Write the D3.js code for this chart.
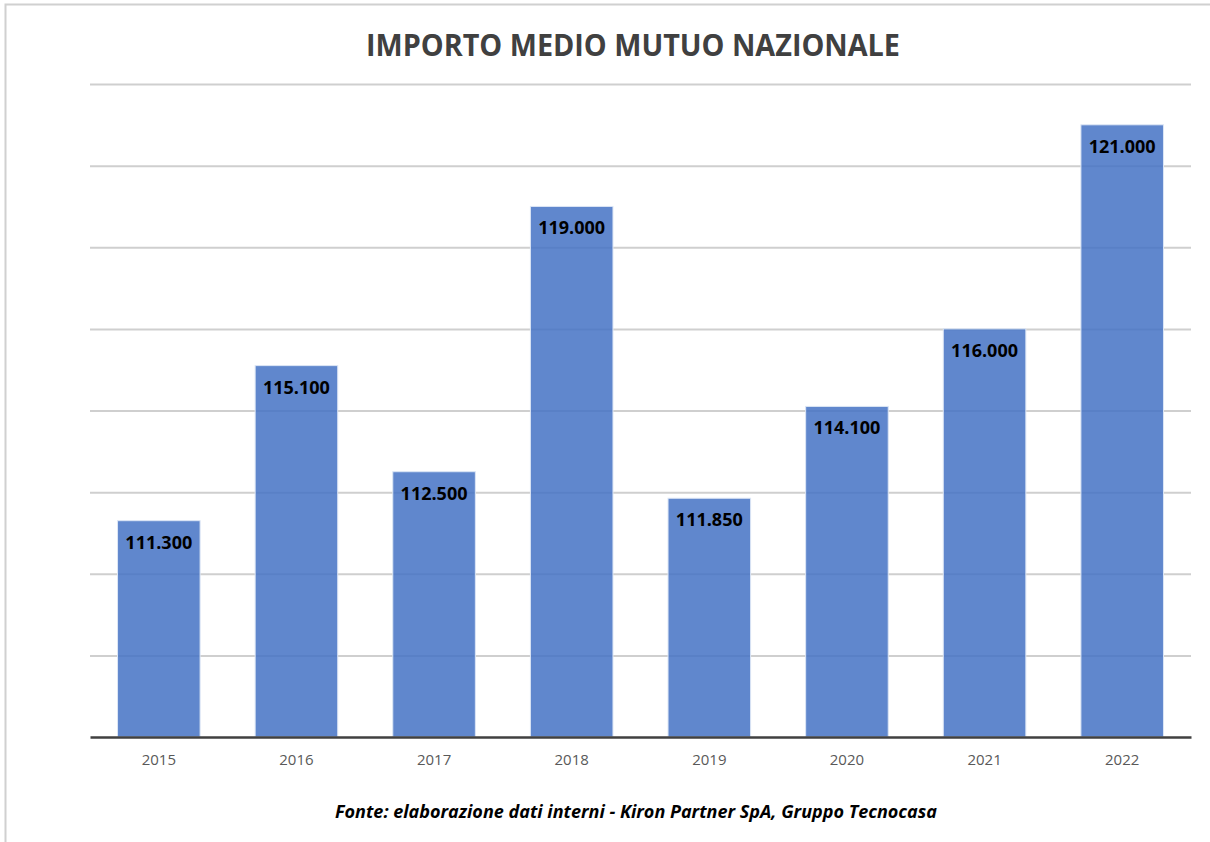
<!DOCTYPE html>
<html>
<head>
<meta charset="utf-8">
<script src="https://cdn.jsdelivr.net/npm/d3@7"></script>
<style>
  html, body { margin: 0; padding: 0; background: #fff; }
  svg { display: block; font-family: "Open Sans", "Noto Sans", sans-serif; }
</style>
</head>
<body>
<svg id="myGraph" width="1210" height="842"></svg>
<script>
// dati
var years = ["2015", "2016", "2017", "2018", "2019", "2020", "2021", "2022"];
var importi = [111300, 115100, 112500, 119000, 111850, 114100, 116000, 121000];
var yDomain = [106000, 122000];
var yStep = 2000;

var titolo = "IMPORTO MEDIO MUTUO NAZIONALE";
var fonte = "Fonte: elaborazione dati interni - Kiron Partner SpA, Gruppo Tecnocasa";

var svg = d3.select("#myGraph");
var W = 1210, H = 842;
var plotLeft = 90, plotRight = 1191, plotTop = 84, plotBottom = 737;

var it = d3.formatLocale({decimal: ",", thousands: ".", grouping: [3], currency: ["€", ""]});
var fmt = it.format(",");

// cornice
svg.append("rect")
  .attr("x", 5.5).attr("y", 4.5)
  .attr("width", W + 10).attr("height", H + 10)
  .attr("fill", "none")
  .attr("stroke", "#d0d0d0")
  .attr("stroke-width", 2);

var x = d3.scaleBand()
  .domain(years)
  .range([plotLeft, plotRight])
  .paddingInner(0.4)
  .paddingOuter(0.2);

var y = d3.scaleLinear()
  .domain(yDomain)
  .range([plotBottom, plotTop]);

// griglia
var gridTicks = d3.range(yDomain[0] + yStep, yDomain[1] + 1, yStep);
svg.append("g")
  .attr("class", "grid")
  .attr("transform", "translate(" + plotLeft + ",0)")
  .call(d3.axisLeft(y).tickValues(gridTicks).tickSize(-(plotRight - plotLeft)).tickFormat(""))
  .call(function(g){
    g.select(".domain").remove();
    g.selectAll(".tick line").attr("stroke", "#cfcfcf").attr("stroke-width", 2);
  });

// barre
svg.append("g")
  .selectAll("rect")
  .data(importi)
  .enter()
  .append("rect")
  .attr("x", function(d,i){ return x(years[i]); })
  .attr("y", function(d){ return y(d); })
  .attr("width", x.bandwidth())
  .attr("height", function(d){ return plotBottom - y(d); })
  .attr("fill", "#4472C4")
  .attr("fill-opacity", 0.85)
  .attr("stroke", "#dce6f5")
  .attr("stroke-width", 1);

// etichette valori
svg.append("g")
  .selectAll("text")
  .data(importi)
  .enter()
  .append("text")
  .attr("x", function(d,i){ return x(years[i]) + x.bandwidth()/2; })
  .attr("y", function(d){ return y(d) + 28; })
  .attr("text-anchor", "middle")
  .attr("font-size", 18)
  .attr("font-weight", "bold")
  .attr("fill", "#000")
  .text(function(d){ return fmt(d); });

// asse x
svg.append("g")
  .attr("transform", "translate(0," + plotBottom + ")")
  .call(d3.axisBottom(x).tickSize(0).tickPadding(17))
  .call(function(g){
    g.select(".domain").attr("stroke", "#404040").attr("stroke-width", 2.5);
    g.selectAll(".tick text")
      .attr("font-family", "'Open Sans', sans-serif")
      .attr("font-size", 15)
      .attr("fill", "#595959")
      .attr("dy", "0.71em");
  });

// titolo
svg.append("text")
  .attr("x", 633).attr("y", 56)
  .attr("text-anchor", "middle")
  .attr("font-size", 30)
  .attr("font-weight", "bold")
  .attr("fill", "#404040")
  .attr("textLength", 534)
  .attr("lengthAdjust", "spacingAndGlyphs")
  .text(titolo);

// fonte
svg.append("text")
  .attr("x", 636).attr("y", 818)
  .attr("text-anchor", "middle")
  .attr("font-size", 18)
  .attr("font-weight", "bold")
  .attr("font-style", "italic")
  .attr("fill", "#000")
  .attr("textLength", 602)
  .attr("lengthAdjust", "spacingAndGlyphs")
  .text(fonte);
</script>
</body>
</html>
